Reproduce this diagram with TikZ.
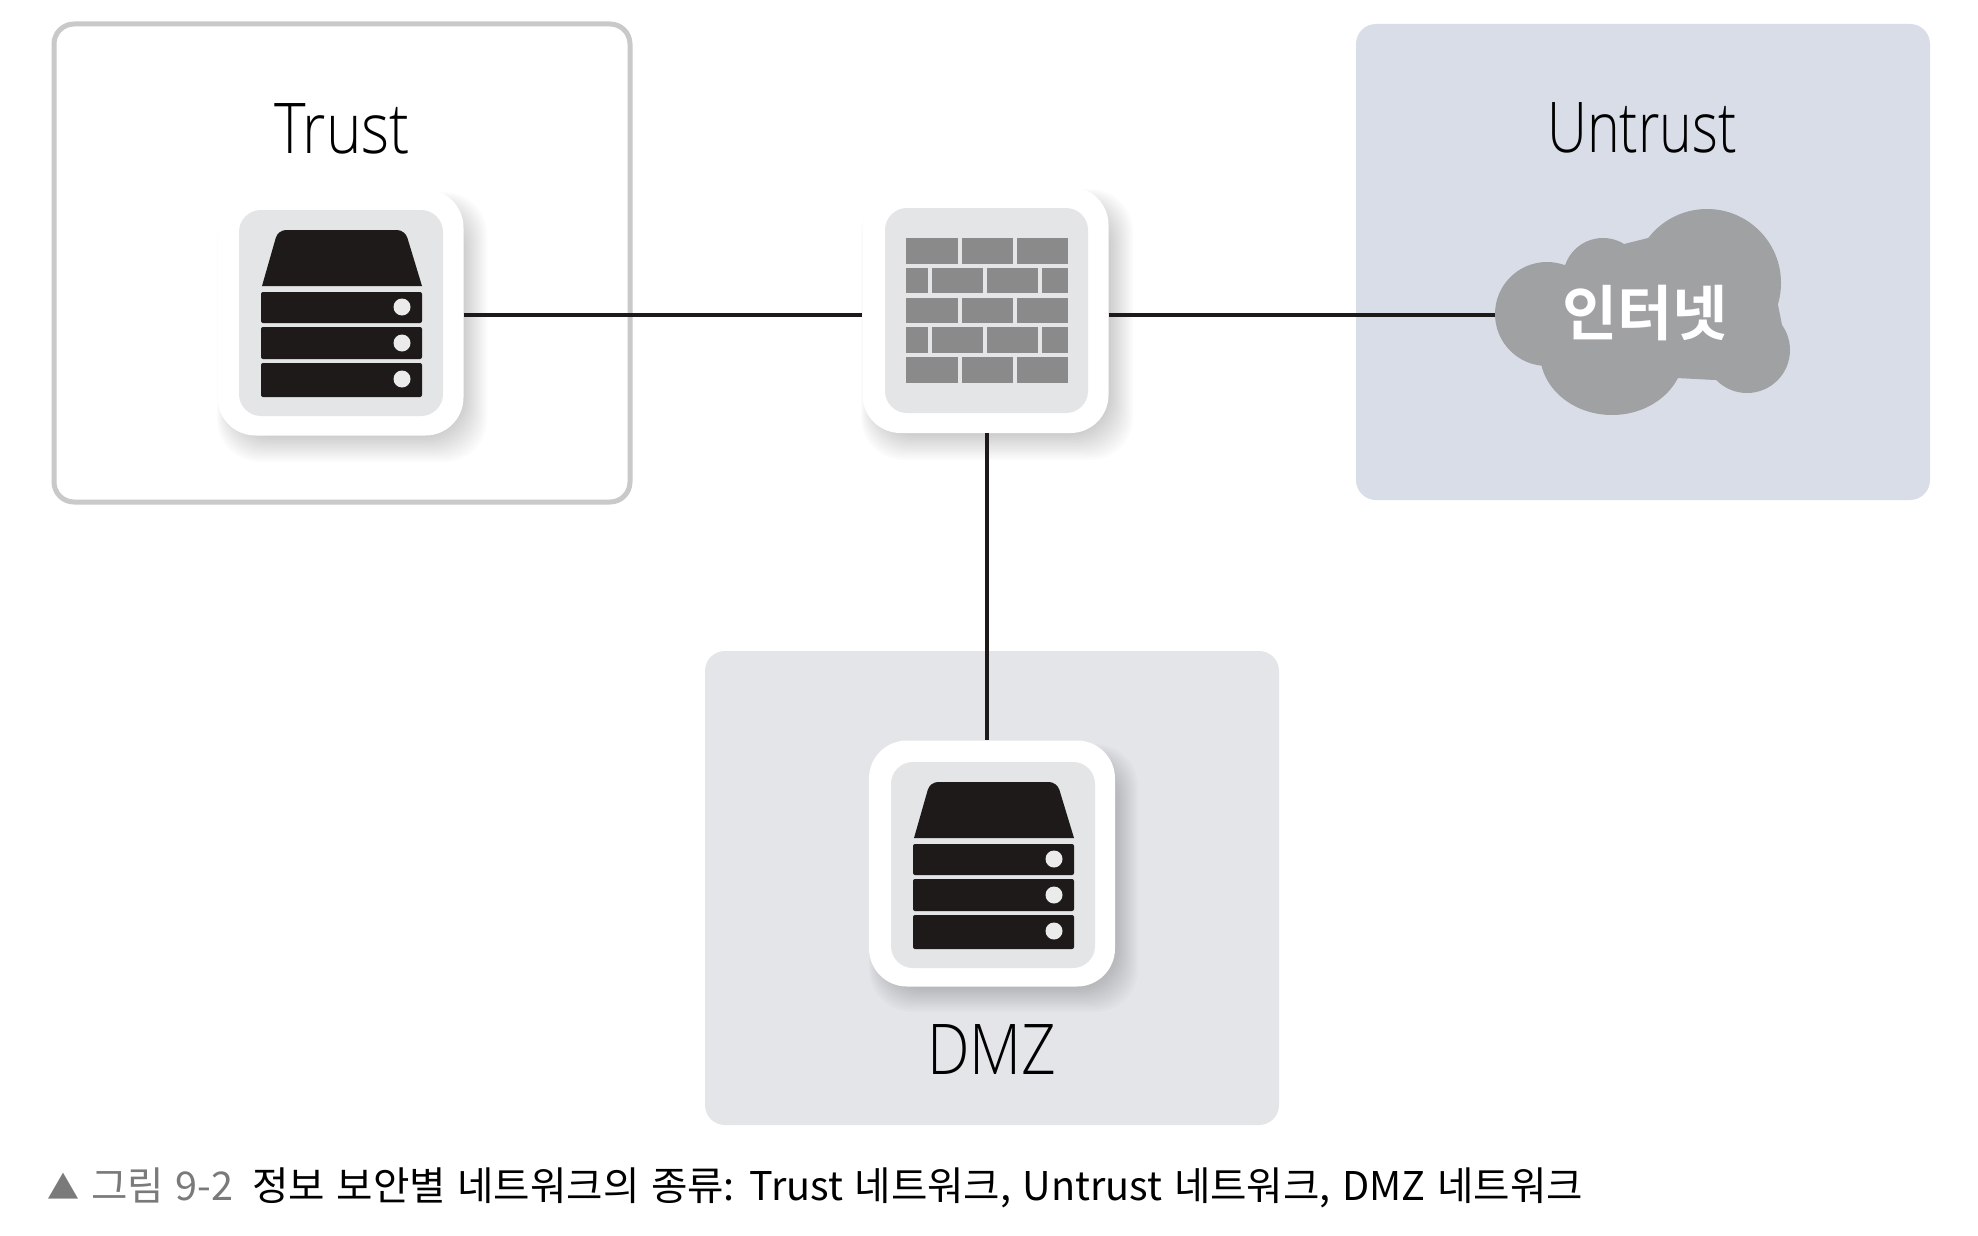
\documentclass[tikz,border=0pt]{standalone}
\usepackage{fontspec}
\newfontfamily\labfont[FakeStretch=0.86]{Open Sans Light}
\newfontfamily\krfont[WordSpace=1.3]{Noto Sans CJK KR}
\newfontfamily\krbold{Noto Sans CJK KR Bold}
\definecolor{ink}{HTML}{1E1A19}
\definecolor{tilegray}{HTML}{E4E5E6}
\definecolor{brick}{HTML}{8A8A8A}
\definecolor{cloudgray}{HTML}{A0A1A3}
\definecolor{untrustbg}{HTML}{D9DDE8}
\definecolor{dmzbg}{HTML}{E4E5E9}
\definecolor{trustline}{HTML}{C9C9C9}
\definecolor{capgray}{HTML}{7A7A7A}
\tikzset{
  tile/.style={draw=none,fill=white,rectangle,rounded corners=38pt,inner sep=0pt,minimum width=246pt,minimum height=246pt},
  inner tile/.style={fill=tilegray,rounded corners=22pt},
  zonelabel/.style={font=\labfont\fontsize{70}{70}\selectfont,text=black,inner sep=0pt},
  link/.style={draw=ink,line width=3.6pt},
  brickcell/.style={fill=brick},
  slab/.style={fill=ink,rounded corners=2pt},
  led/.style={fill=white!92!black},
  cloudpart/.style={fill=cloudgray},
  caption/.style={font=\krfont\fontsize{39.6}{40}\selectfont,inner sep=0pt,anchor=base west}
}
\newcommand{\softshadow}[4]{%
  \foreach \i in {1,...,14}{
    \fill[black,opacity=0.016,rounded corners=42pt]
      ({#1+16-\i*1.2},{#2+22-\i*1.4}) rectangle ({#3-4+\i*2.0},{#4-4+\i*2.2});
  }}
\newcommand{\servericon}{%
  \fill[inner tile] (239,210) rectangle (443,416);
  \fill[ink] (262,286) [rounded corners=8pt] -- (278,230) -- (405,230) [sharp corners] -- (422,286) -- cycle;
  \fill[slab] (261,292) rectangle (422,323);
  \fill[slab] (261,327) rectangle (422,359);
  \fill[slab] (261,363) rectangle (422,397);
  \fill[led] (402,307) circle (8.5);
  \fill[led] (402,343) circle (8.5);
  \fill[led] (402,379) circle (8.5);
}
\begin{document}
\begin{tikzpicture}[x=1pt,y=-1pt]
\useasboundingbox (0,0) rectangle (1978,1236);
\fill[white] (0,0) rectangle (1978,1236);
% zones
\draw[trustline,line width=5pt,rounded corners=20pt] (54,24) rectangle (630,502);
\fill[untrustbg,rounded corners=20pt] (1356,24) rectangle (1930,500);
\fill[dmzbg,rounded corners=20pt] (705,651) rectangle (1279,1125);
% shadows
\softshadow{218}{190}{463}{435}
\softshadow{862}{187}{1109}{433}
\softshadow{870}{742}{1114}{985}
% tiles
\node[tile] (trustsrv) at (340.5,312.5) {};
\node[tile] (fw) at (985.5,310) {};
\node[tile] (dmzsrv) at (992,863.5) {};
\servericon
\begin{scope}[shift={(652,552)}]
\servericon
\end{scope}
% firewall
\fill[inner tile] (885,208) rectangle (1088,413);
\foreach \a/\b in {238/264,298/323,357/383}{
  \fill[brickcell] (906,\a) rectangle (958,\b);
  \fill[brickcell] (962,\a) rectangle (1013,\b);
  \fill[brickcell] (1017,\a) rectangle (1068,\b);
}
\foreach \a/\b in {268/293,327/353}{
  \fill[brickcell] (906,\a) rectangle (928,\b);
  \fill[brickcell] (932,\a) rectangle (983,\b);
  \fill[brickcell] (987,\a) rectangle (1038,\b);
  \fill[brickcell] (1042,\a) rectangle (1068,\b);
}
% cloud
\fill[cloudpart] (1707,283) circle (74);
\fill[cloudpart] (1547,314) circle (52);
\fill[cloudpart] (1603,278) circle (40);
\fill[cloudpart] (1612,353) ellipse (72 and 62);
\fill[cloudpart] (1747,350) circle (43);
\fill[cloudpart] (1545,290) -- (1600,250) -- (1700,225) -- (1775,290) -- (1782,325) -- (1745,372) -- (1715,380) -- (1677,378) -- (1640,395) -- (1560,350) -- cycle;
\node[font=\krbold\fontsize{60}{60}\selectfont,text=white,inner sep=0pt] (inet) at (1645,313) {인터넷};
\coordinate (cloudw) at (1495,315);
\coordinate (hub) at (987,315);
% links
\draw[link] (trustsrv.east |- hub) -- (fw.west |- hub);
\draw[link] (fw.east |- hub) -- (cloudw);
\draw[link] (hub |- fw.south) -- (hub |- dmzsrv.north);
% labels
\node[zonelabel] (ltrust) at (342,129) {Trust};
\node[zonelabel,xscale=0.92] (luntrust) at (1642,128) {Untrust};
\node[zonelabel] (ldmz) at (992,1050) {DMZ};
% caption
\node[caption,text=capgray,font=\krfont\fontsize{32}{32}\selectfont] (captri) at (47,1199) {▲};
\node[caption,text=capgray] (cap1) at (91,1200) {그림 9-2};
\node[caption,text=black] (cap2) at (252,1200) {정보 보안별 네트워크의 종류: Trust 네트워크, Untrust 네트워크, DMZ 네트워크};
\end{tikzpicture}
\end{document}
